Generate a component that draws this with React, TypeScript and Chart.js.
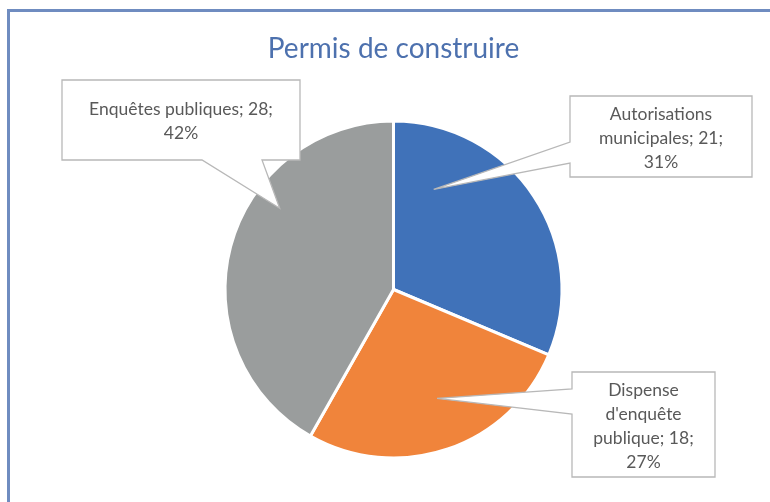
import React, { useEffect, useRef } from "react";
import { Chart, registerables } from "chart.js";

Chart.register(...registerables);

const TITLE = "Permis de construire";
const categories = ["Autorisations municipales", "Dispense d'enquête publique", "Enquêtes publiques"];
const values = [21, 18, 28];
const colors = ["#4072b9", "#f0843b", "#9a9d9d"];

// Callout label boxes (layout only): rect, where the pointer leaves the box,
// and where inside the slice the pointer ends (fraction of slice angle / radius).
const calloutLayout = [
  { x: 570, y: 96, w: 182, h: 81, side: "left", base: [142, 163], tipT: 0.194, tipR: 0.64, wrap: 150 },
  { x: 572, y: 372, w: 143, h: 105, side: "left", base: [389, 414], tipT: 0.469, tipR: 0.696, wrap: 120 },
  { x: 62, y: 80, w: 238, h: 80, side: "bottom", base: [202, 262], tipT: 0.638, tipR: 0.83, wrap: 200 },
];

const FONT = "Lato, 'Open Sans', sans-serif";
const LABEL_SIZE = 17.5;
const LINE_H = 24;

function wrapText(ctx: CanvasRenderingContext2D, text: string, maxW: number): string[] {
  const words = text.split(" ");
  const lines: string[] = [];
  let cur = "";
  for (const w of words) {
    const test = cur ? cur + " " + w : w;
    if (cur && ctx.measureText(test).width > maxW) {
      lines.push(cur);
      cur = w;
    } else {
      cur = test;
    }
  }
  if (cur) lines.push(cur);
  return lines;
}

const calloutPlugin = {
  id: "callouts",
  afterDatasetsDraw(chart: any) {
    const ctx: CanvasRenderingContext2D = chart.ctx;
    const meta = chart.getDatasetMeta(0);
    const data: number[] = chart.data.datasets[0].data;
    const total = data.reduce((a, b) => a + b, 0);
    meta.data.forEach((arc: any, i: number) => {
      const L = calloutLayout[i];
      if (!L) return;
      const p = arc.getProps(["x", "y", "startAngle", "endAngle", "outerRadius"], true);
      const ang = p.startAngle + L.tipT * (p.endAngle - p.startAngle);
      const tx = p.x + Math.cos(ang) * p.outerRadius * L.tipR;
      const ty = p.y + Math.sin(ang) * p.outerRadius * L.tipR;
      ctx.save();
      ctx.beginPath();
      if (L.side === "left") {
        ctx.moveTo(L.x, L.y);
        ctx.lineTo(L.x + L.w, L.y);
        ctx.lineTo(L.x + L.w, L.y + L.h);
        ctx.lineTo(L.x, L.y + L.h);
        ctx.lineTo(L.x, L.base[1]);
        ctx.lineTo(tx, ty);
        ctx.lineTo(L.x, L.base[0]);
      } else {
        ctx.moveTo(L.x, L.y);
        ctx.lineTo(L.x + L.w, L.y);
        ctx.lineTo(L.x + L.w, L.y + L.h);
        ctx.lineTo(L.base[1], L.y + L.h);
        ctx.lineTo(tx, ty);
        ctx.lineTo(L.base[0], L.y + L.h);
        ctx.lineTo(L.x, L.y + L.h);
      }
      ctx.closePath();
      ctx.fillStyle = "#ffffff";
      ctx.fill();
      ctx.strokeStyle = "#b8b8b8";
      ctx.lineWidth = 1.3;
      ctx.lineJoin = "miter";
      ctx.stroke();

      const pct = Math.round((data[i] / total) * 100);
      const text = `${chart.data.labels[i]}; ${data[i]}; ${pct}%`;
      ctx.font = `${LABEL_SIZE}px ${FONT}`;
      ctx.fillStyle = "#595959";
      ctx.textAlign = "center";
      ctx.textBaseline = "alphabetic";
      const lines = wrapText(ctx, text, L.wrap);
      const cx = L.x + L.w / 2;
      const cy = L.y + L.h / 2 + 1;
      const capH = LABEL_SIZE * 0.72;
      lines.forEach((ln, k) => {
        const by = cy + (k - (lines.length - 1) / 2) * LINE_H + capH / 2;
        ctx.fillText(ln, cx, by);
      });
      ctx.restore();
    });
  },
};

export default function App() {
  const ref = useRef<HTMLCanvasElement | null>(null);
  useEffect(() => {
    if (!ref.current) return;
    const chart = new Chart(ref.current, {
      type: "pie",
      data: {
        labels: categories,
        datasets: [
          {
            data: values,
            backgroundColor: colors,
            borderColor: "#ffffff",
            borderWidth: 3,
            radius: 168.5,
          } as any,
        ],
      },
      options: {
        responsive: false,
        animation: false,
        devicePixelRatio: 1,
        layout: { padding: { left: 17, right: 0, top: 0, bottom: 3.3 } },
        plugins: {
          legend: { display: false },
          tooltip: { enabled: false },
          title: {
            display: true,
            text: TITLE,
            color: "#4d71ae",
            font: { family: FONT, size: 28, weight: "normal" as any },
            padding: { top: 31.7, bottom: 15 },
          },
        },
        events: [],
      },
      plugins: [calloutPlugin],
    });
    return () => chart.destroy();
  }, []);
  return (
    <div style={{ position: "fixed", left: 0, top: 0, width: 770, height: 502, background: "#fff", overflow: "hidden" }}>
      <div
        style={{
          position: "absolute",
          left: 7,
          top: 9,
          width: 900,
          height: 700,
          border: "3px solid #6f8cc0",
          boxSizing: "border-box",
        }}
      />
      <canvas ref={ref} width={770} height={502} style={{ position: "absolute", left: 0, top: 0 }} />
    </div>
  );
}
